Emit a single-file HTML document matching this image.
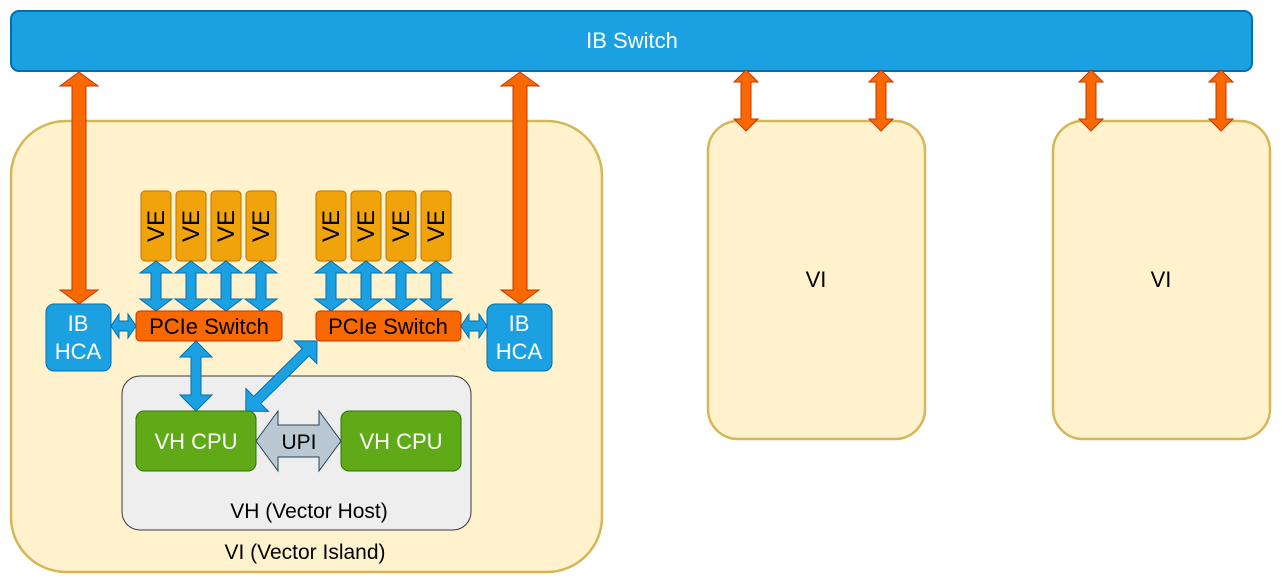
<!DOCTYPE html>
<html><head><meta charset="utf-8"><style>
html,body{margin:0;padding:0;background:#fff;}
svg{display:block;font-family:"Liberation Sans",Arial,sans-serif;}
</style></head><body>
<svg width="1282" height="583" viewBox="0 0 1282 583" xmlns="http://www.w3.org/2000/svg">
<defs>
<polygon id="so" points="0,70 12,82 5,82 5,119 12,119 0,131 -12,119 -5,119 -5,82 -12,82" fill="#fa6800" stroke="#c73500" stroke-width="1"/>
<polygon id="vb" points="0,261 16,273 5,273 5,299 16,299 0,311 -16,299 -5,299 -5,273 -16,273" fill="#1ba1e2" stroke="#006eaf" stroke-width="1"/>
</defs>
<rect x="11" y="11" width="1241" height="60" rx="8" fill="#1ba1e2" stroke="#006eaf" stroke-width="2"/>
<text x="632" y="48" font-size="22" fill="#fff" text-anchor="middle">IB Switch</text>

<rect x="11" y="121" width="591" height="451" rx="55" fill="#fff2cc" stroke="#d6b656" stroke-width="2.5"/>
<text x="305" y="559" font-size="21" text-anchor="middle">VI (Vector Island)</text>

<rect x="708" y="121" width="217" height="318" rx="30" fill="#fff2cc" stroke="#d6b656" stroke-width="2.5"/>
<text x="816" y="287" font-size="22" text-anchor="middle">VI</text>
<rect x="1053" y="121" width="217" height="318" rx="30" fill="#fff2cc" stroke="#d6b656" stroke-width="2.5"/>
<text x="1161" y="287" font-size="22" text-anchor="middle">VI</text>

<use href="#so" x="746"/><use href="#so" x="881"/><use href="#so" x="1091"/><use href="#so" x="1221"/>

<rect x="122" y="376" width="349" height="154" rx="18" fill="#eeeeee" stroke="#36393d" stroke-width="1"/>
<text x="309" y="518" font-size="21" text-anchor="middle">VH (Vector Host)</text>

<g fill="#f0a30a" stroke="#bd7000" stroke-width="1">
<rect x="141" y="191" width="30" height="70" rx="4"/><rect x="176" y="191" width="30" height="70" rx="4"/>
<rect x="211" y="191" width="30" height="70" rx="4"/><rect x="246" y="191" width="30" height="70" rx="4"/>
<rect x="316" y="191" width="30" height="70" rx="4"/><rect x="351" y="191" width="30" height="70" rx="4"/>
<rect x="386" y="191" width="30" height="70" rx="4"/><rect x="421" y="191" width="30" height="70" rx="4"/>
</g>
<g font-size="24" text-anchor="middle">
<text transform="translate(164,226) rotate(-90)">VE</text>
<text transform="translate(199,226) rotate(-90)">VE</text>
<text transform="translate(234,226) rotate(-90)">VE</text>
<text transform="translate(269,226) rotate(-90)">VE</text>
<text transform="translate(339,226) rotate(-90)">VE</text>
<text transform="translate(374,226) rotate(-90)">VE</text>
<text transform="translate(409,226) rotate(-90)">VE</text>
<text transform="translate(444,226) rotate(-90)">VE</text>
</g>
<use href="#vb" x="156"/><use href="#vb" x="191"/><use href="#vb" x="226"/><use href="#vb" x="261"/>
<use href="#vb" x="331"/><use href="#vb" x="366"/><use href="#vb" x="401"/><use href="#vb" x="436"/>

<rect x="136" y="311" width="146" height="30" rx="4" fill="#fa6800" stroke="#c73500" stroke-width="1"/>
<text x="209" y="334" font-size="22" text-anchor="middle">PCIe Switch</text>
<rect x="316" y="311" width="145" height="30" rx="4" fill="#fa6800" stroke="#c73500" stroke-width="1"/>
<text x="388" y="334" font-size="22" text-anchor="middle">PCIe Switch</text>

<rect x="46" y="304" width="65" height="67" rx="8" fill="#1ba1e2" stroke="#006eaf" stroke-width="1"/>
<text x="78" y="331" font-size="22" fill="#fff" text-anchor="middle">IB</text>
<text x="78" y="359" font-size="22" fill="#fff" text-anchor="middle">HCA</text>
<rect x="487" y="304" width="65" height="67" rx="8" fill="#1ba1e2" stroke="#006eaf" stroke-width="1"/>
<text x="519" y="331" font-size="22" fill="#fff" text-anchor="middle">IB</text>
<text x="519" y="359" font-size="22" fill="#fff" text-anchor="middle">HCA</text>

<polygon points="79,72 98,86 86,86 86,290 98,290 79,304 60,290 72,290 72,86 60,86" fill="#fa6800" stroke="#c73500" stroke-width="1"/>
<polygon points="520,72 539,86 527,86 527,290 539,290 520,304 501,290 513,290 513,86 501,86" fill="#fa6800" stroke="#c73500" stroke-width="1"/>

<polygon points="111,326 119,314 119,321 128,321 128,314 136,326 128,338 128,331 119,331 119,338" fill="#1ba1e2" stroke="#006eaf" stroke-width="1"/>
<polygon points="461,326 469,314 469,321 479,321 479,314 487,326 479,338 479,331 469,331 469,338" fill="#1ba1e2" stroke="#006eaf" stroke-width="1"/>

<polygon points="196,341 212,357 201,357 201,395 212,395 196,411 180,395 191,395 191,357 180,357" fill="#1ba1e2" stroke="#006eaf" stroke-width="1"/>
<polygon transform="translate(317,341) rotate(135.4)" points="0,0 16,-16 16,-5 84,-5 84,-16 100,0 84,16 84,5 16,5 16,16" fill="#1ba1e2" stroke="#006eaf" stroke-width="1"/>

<rect x="136" y="411" width="120" height="60" rx="8" fill="#60a917" stroke="#2d7600" stroke-width="1"/>
<text x="196" y="449" font-size="22" fill="#fff" text-anchor="middle">VH CPU</text>
<rect x="341" y="411" width="120" height="60" rx="8" fill="#60a917" stroke="#2d7600" stroke-width="1"/>
<text x="401" y="449" font-size="22" fill="#fff" text-anchor="middle">VH CPU</text>

<polygon points="256,441 278,411 278,425 319,425 319,411 341,441 319,471 319,457 278,457 278,471" fill="#bac8d3" stroke="#23445d" stroke-width="1"/>
<text x="299" y="449" font-size="21" text-anchor="middle">UPI</text>
</svg>
</body></html>
